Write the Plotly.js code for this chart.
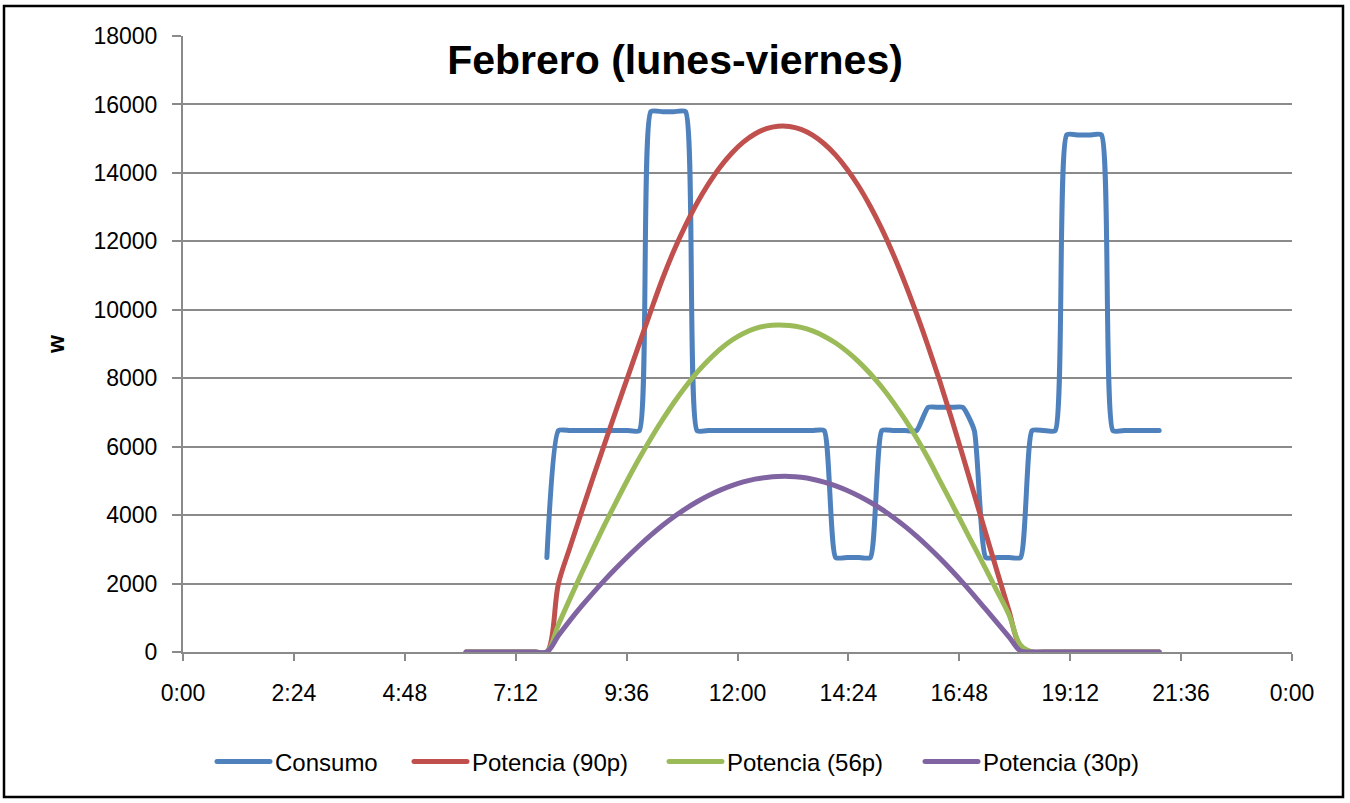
<!DOCTYPE html>
<html>
<head>
<meta charset="utf-8">
<script src="https://cdn.plot.ly/plotly-3.0.1.min.js"></script>
<style>
  html, body { margin: 0; padding: 0; background: #fff; }
  #chart { width: 1350px; height: 803px; }
  #chart .js-line { stroke-linecap: round; }
</style>
</head>
<body>
<div id="chart"></div>
<script>
// ---- Data ----
const times = ["6:07:30","6:22:30","6:37:30","6:52:30","7:07:30","7:22:30","7:37:30","7:52:30",
  "8:07:30","8:22:30","8:37:30","8:52:30","9:07:30","9:22:30","9:37:30","9:52:30",
  "10:07:30","10:22:30","10:37:30","10:52:30","11:07:30","11:22:30","11:37:30","11:52:30",
  "12:07:30","12:22:30","12:37:30","12:52:30","13:07:30","13:22:30","13:37:30","13:52:30",
  "14:07:30","14:22:30","14:37:30","14:52:30","15:07:30","15:22:30","15:37:30","15:52:30",
  "16:07:30","16:22:30","16:37:30","16:52:30","17:07:30","17:22:30","17:37:30","17:52:30",
  "18:07:30","18:22:30","18:37:30","18:52:30","19:07:30","19:22:30","19:37:30","19:52:30",
  "20:07:30","20:22:30","20:37:30","20:52:30","21:07:30"];

const consumo = [null,null,null,null,null,null,null,2760,
  6470,6470,6470,6470,6470,6470,6470,6470,
  15790,15790,15790,15790,
  6470,6470,6470,6470,6470,6470,6470,6470,6470,6470,6470,6470,
  2760,2760,2760,2760,
  6470,6470,6470,6470,
  7150,7150,7150,7150,
  6470,
  2760,2760,2760,2760,
  6470,6470,6470,
  15110,15110,15110,15110,
  6470,6470,6470,6470,6470];

const potencia90 = [0,0,0,0,0,0,0,0,
  2000,3060,4090,5100,6090,7070,8040,9010,9970,10900,
  11734,12465,13120,13686,14175,14576,14898,15136,15292,15364,
  15358,15272,15104,14851,14519,14100,13603,13018,12355,11610,
  10780,9885,8935,7925,6855,5735,4595,3455,2325,1205,
  150,
  0,0,0,0,0,0,0,0,0,0,0,0];

const potencia56 = [0,0,0,0,0,0,0,0,
  800,1560,2300,3020,3720,4390,5040,5660,6240,6780,
  7290,7750,8170,8530,8850,9110,9310,9450,9530,9555,
  9540,9485,9382,9229,9028,8777,8479,8130,7735,7287,
  6795,6254,5660,5016,4370,3720,3070,2420,1760,1090,
  200,
  0,0,0,0,0,0,0,0,0,0,0,0];

const potencia30 = [0,0,0,0,0,0,0,0,
  480,925,1340,1730,2100,2452,2789,3111,3413,3695,
  3952,4184,4391,4573,4730,4862,4969,5051,5100,5128,
  5130,5105,5050,4965,4855,4720,4560,4375,4165,3930,
  3670,3385,3075,2745,2395,2025,1640,1245,845,440,
  30,
  0,0,0,0,0,0,0,0,0,0,0,0];

const seriesNames = ["Consumo", "Potencia (90p)", "Potencia (56p)", "Potencia (30p)"];
const seriesColors = ["#4F81BD", "#C0504D", "#9BBB59", "#8064A2"];
const seriesSmoothing = [0.5, 1, 1, 1];
const legendEntryWidths = [129, 187, 188, 170];

const tickHours = [0, 2.4, 4.8, 7.2, 9.6, 12, 14.4, 16.8, 19.2, 21.6, 24];
const tickLabels = ["0:00","2:24","4:48","7:12","9:36","12:00","14:24","16:48","19:12","21:36","0:00"];

// ---- Build ----
function toHours(t) {
  const p = t.split(":").map(Number);
  return p[0] + p[1] / 60 + (p[2] || 0) / 3600;
}
const xh = times.map(toHours);
const allSeries = [consumo, potencia90, potencia56, potencia30];

const traces = allSeries.map((ys, i) => ({
  type: "scatter",
  mode: "lines",
  name: seriesNames[i],
  x: xh,
  y: ys,
  connectgaps: false,
  legendwidth: legendEntryWidths[i],
  line: { color: seriesColors[i], width: 5, shape: "spline", smoothing: seriesSmoothing[i] },
  hoverinfo: "skip"
}));

const FONT = "Liberation Sans, Arial, sans-serif";
const axisGray = "#8a8a8a";

const layout = {
  width: 1350,
  height: 803,
  margin: { l: 183, r: 58, t: 36, b: 151 },
  paper_bgcolor: "#ffffff",
  plot_bgcolor: "#ffffff",
  font: { family: FONT, size: 23, color: "#000000" },
  title: {
    text: "<b>Febrero (lunes-viernes)</b>",
    font: { family: FONT, size: 41, color: "#000000" },
    x: 0.5, xref: "container", xanchor: "center",
    y: 1 - 60 / 803, yref: "container", yanchor: "middle"
  },
  xaxis: {
    range: [0, 24],
    tickmode: "array",
    tickvals: tickHours,
    ticktext: tickLabels,
    showgrid: false,
    zeroline: false,
    showline: true,
    linecolor: axisGray,
    linewidth: 2,
    ticks: "outside",
    ticklen: 7,
    tickwidth: 2,
    tickcolor: axisGray,
    ticklabelstandoff: 12,
    tickfont: { family: FONT, size: 23, color: "#000000" },
    fixedrange: true
  },
  yaxis: {
    range: [0, 18000],
    tick0: 0,
    dtick: 2000,
    tickformat: "d",
    showgrid: true,
    gridcolor: axisGray,
    gridwidth: 2,
    zeroline: false,
    showline: true,
    linecolor: axisGray,
    linewidth: 2,
    ticks: "outside",
    ticklen: 9,
    tickwidth: 2,
    tickcolor: axisGray,
    ticklabelstandoff: 10,
    tickfont: { family: FONT, size: 23, color: "#000000" },
    title: { text: "<b>w</b>", font: { family: FONT, size: 23, color: "#000000" }, standoff: 22 },
    fixedrange: true
  },
  showlegend: true,
  legend: {
    orientation: "h",
    x: 212 / 1350, xref: "container", xanchor: "left",
    y: 1 - 762 / 803, yref: "container", yanchor: "middle",
    font: { family: FONT, size: 24, color: "#000000" },
    itemwidth: 53,
    entrywidthmode: "pixels",
    tracegroupgap: 0
  },
  shapes: [{
    type: "rect",
    xref: "paper", yref: "paper",
    x0: (4 - 183) / 1109, x1: (1343 - 183) / 1109,
    y0: (652 - 797) / 616, y1: (652 - 6) / 616,
    line: { color: "#000000", width: 2.5 },
    fillcolor: "rgba(0,0,0,0)",
    layer: "below"
  }]
};

Plotly.newPlot("chart", traces, layout, { staticPlot: true, displayModeBar: false });
</script>
</body>
</html>
